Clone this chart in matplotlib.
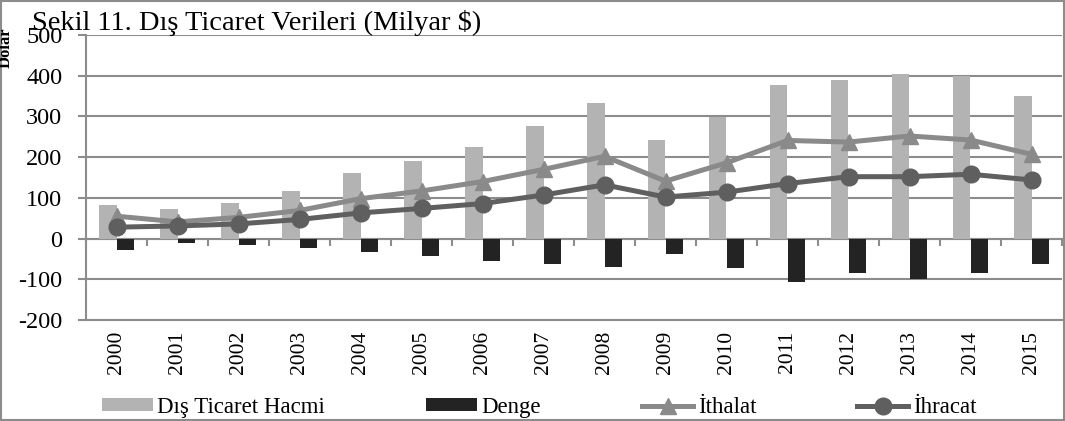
import numpy as np
import matplotlib
matplotlib.use("Agg")
import matplotlib.pyplot as plt
from matplotlib.patches import Rectangle

# Data (billion $)
years = ["2000", "2001", "2002", "2003", "2004", "2005", "2006", "2007",
         "2008", "2009", "2010", "2011", "2012", "2013", "2014", "2015"]
hacim = [82, 73, 88, 117, 161, 190, 225, 277, 334, 243, 299, 376, 389, 403, 400, 351]
denge = [-27, -10, -16, -22, -34, -43, -54, -63, -70, -39, -72, -106, -84, -100, -85, -63]
ithalat = [55, 41, 52, 69, 98, 117, 140, 170, 202, 141, 186, 241, 237, 252, 242, 207]
ihracat = [28, 31, 36, 47, 63, 74, 86, 107, 132, 102, 114, 135, 152, 152, 158, 144]
y_ticks = [-200, -100, 0, 100, 200, 300, 400, 500]

plt.rcParams["font.family"] = ["Liberation Serif", "DejaVu Serif"]

GRID = "#8c8c8c"
C_HACIM = "#b3b3b3"
C_DENGE = "#232323"
C_ITH = "#8a8a8a"
C_IHR = "#5f5f5f"

fig = plt.figure(figsize=(10.65, 4.21), dpi=100)
ax = fig.add_axes([86 / 1065, 1 - 320 / 421, (1062 - 86) / 1065, (320 - 35) / 421])

x = np.arange(len(years))
w = 0.28

b1 = ax.bar(x - w / 2, hacim, width=w, color=C_HACIM, label="Dış Ticaret Hacmi", zorder=2)
b2 = ax.bar(x + w / 2, denge, width=w, color=C_DENGE, label="Denge", zorder=2)
l1, = ax.plot(x, ithalat, color=C_ITH, lw=3.6, marker="^", markersize=11,
              label="İthalat", zorder=3)
l2, = ax.plot(x, ihracat, color=C_IHR, lw=3.6, marker="o", markersize=12,
              label="İhracat", zorder=4)

ax.set_xlim(-0.5, len(years) - 0.5)
ax.set_ylim(-200, 500)
ax.set_yticks(y_ticks)
ax.set_yticklabels([str(v) for v in y_ticks])
ax.yaxis.grid(True, color=GRID, lw=1.5, zorder=1)
ax.set_axisbelow(True)

for s in ["top", "right"]:
    ax.spines[s].set_visible(False)
ax.spines["left"].set_color(GRID)
ax.spines["left"].set_linewidth(1.5)
ax.spines["bottom"].set_color(GRID)
ax.spines["bottom"].set_linewidth(1.5)

ax.tick_params(axis="y", direction="out", length=6, width=1.5, color=GRID,
               labelsize=17.5, pad=11)
ax.set_xticks(x)
ax.set_xticklabels(years, rotation=90)
ax.tick_params(axis="x", length=0, labelsize=15.5, pad=8)

# horizontal axis line at zero with tick marks between categories
sec = ax.secondary_xaxis(200 / 700)
sec.set_xticks(np.arange(-0.5, len(years), 1.0))
sec.set_xticklabels([])
sec.spines["bottom"].set_color(GRID)
sec.spines["bottom"].set_linewidth(1.5)
sec.tick_params(direction="out", length=5, width=1.5, color=GRID)

fig.text(6 / 1065, 1 - 48 / 421, "Dolar", fontsize=12, fontweight="bold",
         rotation=90, ha="center", va="center")
fig.text(32 / 1065, 1 - 30 / 421, "Sekil 11. Dış Ticaret Verileri (Milyar $)",
         fontsize=20.5, ha="left", va="baseline",
         bbox=dict(facecolor="none", edgecolor="none", pad=0))

fig.legend([b1, b2, l1, l2], ["Dış Ticaret Hacmi", "Denge", "İthalat", "İhracat"],
           loc="lower left", bbox_to_anchor=(88 / 1065, -0.025), ncol=4,
           frameon=False, fontsize=16.5, handlelength=2.23, handleheight=0.45,
           handletextpad=0.2, columnspacing=4.4, borderaxespad=0.2)

fig.patches.append(Rectangle((0.001, 0.002), 0.998, 0.996, transform=fig.transFigure,
                             fill=False, edgecolor=GRID, lw=1.5))

fig.savefig("out.png", dpi=100)
